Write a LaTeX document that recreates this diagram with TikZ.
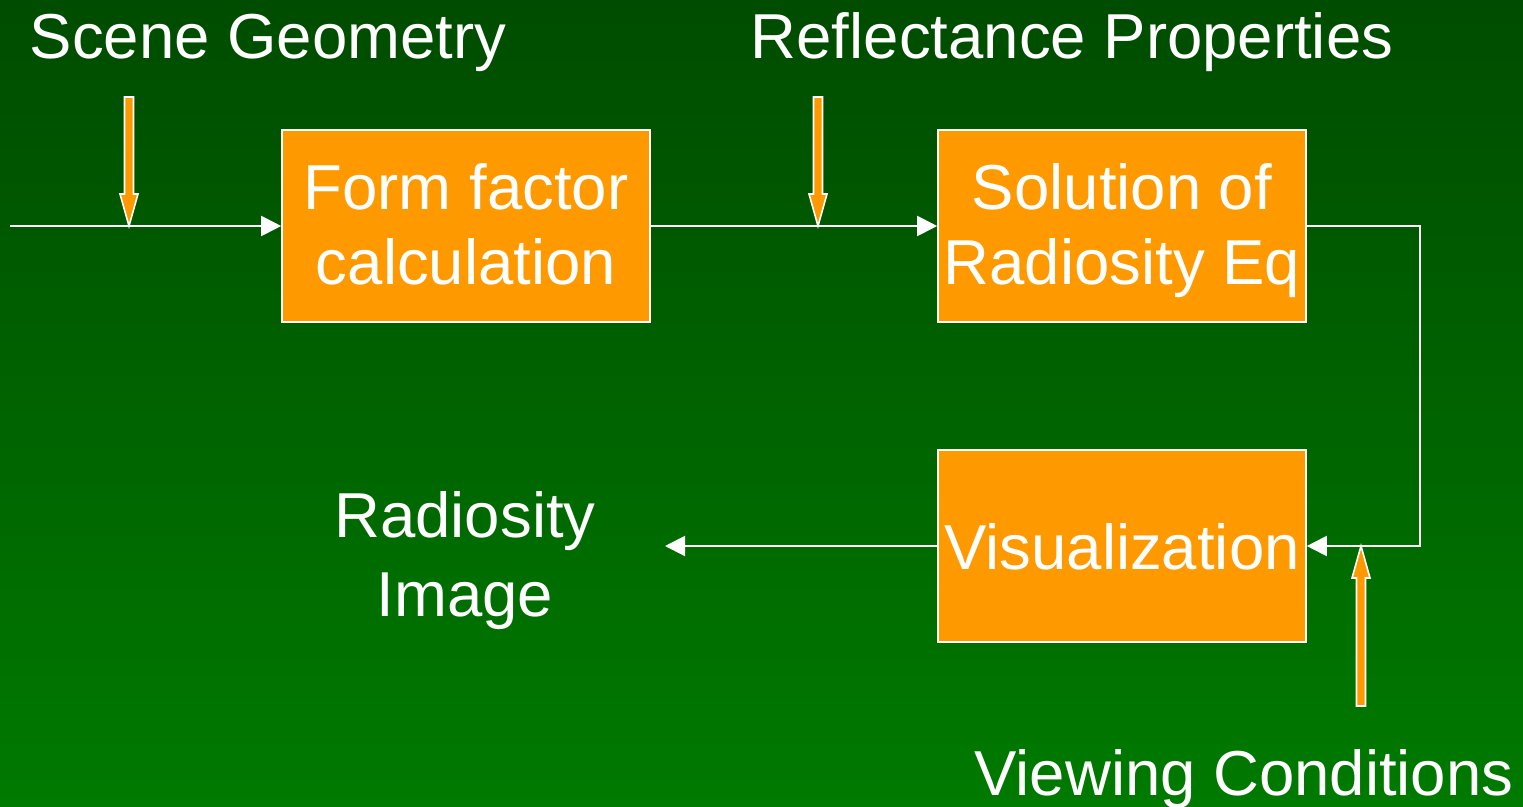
\documentclass[tikz,border=0pt]{standalone}
\usepackage{fontspec}
\setmainfont{Liberation Sans}
\usetikzlibrary{arrows.meta}
\definecolor{bgtop}{RGB}{0,76,0}
\definecolor{bgbot}{RGB}{0,122,0}
\definecolor{boxorange}{RGB}{255,153,0}
\newcommand\boxtext[2]{\raisebox{#1}[0pt][0pt]{\begin{tabular}[t]{@{}c@{}}#2\end{tabular}}}
\tikzset{
  stagebox/.style={draw=white, line width=1.6pt, fill=boxorange, minimum width=368pt, minimum height=192pt, inner sep=0pt, text=white, align=center, font=\fontsize{63.5}{75}\selectfont},
  label/.style={text=white, align=center, inner sep=0pt, font=\fontsize{63.5}{79}\selectfont},
  flow/.style={draw=white, line width=2pt, -{Triangle[length=20pt,width=20pt]}},
  inarrow/.style={draw=white, line width=1.6pt, fill=boxorange, line join=miter}
}
\begin{document}
\begin{tikzpicture}[x=1pt,y=-1pt]
\useasboundingbox (0,0) rectangle (1523,806);
\shade[top color=bgtop, bottom color=bgbot] (0,0) rectangle (1523,806);

\node[stagebox] (ff) at (466,226) {\boxtext{17pt}{Form factor\\calculation}};
\node[stagebox] (sol) at (1122,226) {\boxtext{17pt}{Solution of\\Radiosity Eq}};
\node[stagebox] (vis) at (1122,546) {\boxtext{-23pt}{Visualization}};

\node[label, anchor=base] (sg) at (268,58) {Scene Geometry};
\node[label, anchor=base] (rp) at (1072,58) {Reflectance Properties};
\node[label, anchor=base] (ri) at (465,616) {Radiosity\\Image};
\node[label, anchor=base] (vc) at (1244,795) {Viewing Conditions};

\coordinate (start) at (10,226);
\coordinate (sgtip) at (129,226);
\coordinate (rptip) at (818,226);
\coordinate (corner1) at (1420,226);
\coordinate (corner2) at (1420,546);
\coordinate (vctip) at (1361,546);
\coordinate (out) at (665,546);

\draw[flow] (start) -- (ff.west);
\draw[flow] (ff.east) -- (sol.west);
\draw[flow] (sol.east) -- (corner1) -- (corner2) -- (vis.east);
\draw[flow] (vis.west) -- (out);

\draw[inarrow] (sgtip) -- ++(-9,-32) -- ++(4.5,0) -- ++(0,-97) -- ++(9,0) -- ++(0,97) -- ++(4.5,0) -- cycle;
\draw[inarrow] (rptip) -- ++(-9,-32) -- ++(4.5,0) -- ++(0,-97) -- ++(9,0) -- ++(0,97) -- ++(4.5,0) -- cycle;
\draw[inarrow] (vctip) -- ++(-9,32) -- ++(4.5,0) -- ++(0,128) -- ++(9,0) -- ++(0,-128) -- ++(4.5,0) -- cycle;
\end{tikzpicture}
\end{document}
